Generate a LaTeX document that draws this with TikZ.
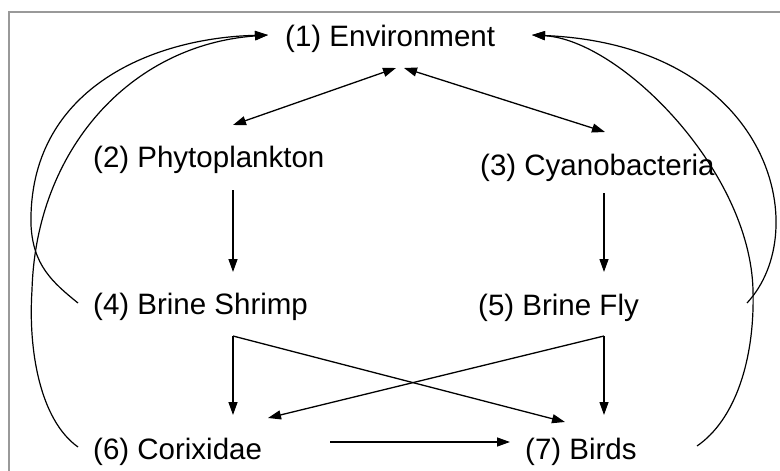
\documentclass[tikz,border=0pt]{standalone}
\usepackage{fontspec}
\setmainfont{Liberation Sans}
\usetikzlibrary{arrows.meta}
\begin{document}
\begin{tikzpicture}[x=1pt,y=-1pt,
  lbl/.style={anchor=base west,inner sep=0pt,font=\fontsize{29.5}{34}\selectfont},
  tip/.style={Triangle[length=13pt,width=9pt]},
  conn/.style={line width=1.3pt,-{Triangle[length=13pt,width=9pt]}},
  dconn/.style={line width=1.3pt,{Triangle[length=13pt,width=9pt]}-{Triangle[length=13pt,width=9pt]}},
  curv/.style={line width=1.2pt,-{Triangle[length=13pt,width=9pt]}},
  frame/.style={draw=gray!80,line width=2.5pt}]
\useasboundingbox (0,0) rectangle (780,471);
\fill[white] (0,0) rectangle (780,471);
\draw[frame] (9,471) -- (9,12) -- (780,12);
% nodes
\node[lbl] (env) at (285,46) {(1) Environment};
\node[lbl] (phy) at (93,167) {(2) Phytoplankton};
\node[lbl] (cya) at (480,175) {(3) Cyanobacteria};
\node[lbl] (shr) at (93,314) {(4) Brine Shrimp};
\node[lbl] (fly) at (478,315) {(5) Brine Fly};
\node[lbl] (cor) at (93,459) {(6) Corixidae};
\node[lbl] (bir) at (525,459) {(7) Birds};
% connector end points
\coordinate (envA) at (396,68);
\coordinate (envB) at (404,68);
\coordinate (phyT) at (233,125);
\coordinate (cyaT) at (605,132);
\coordinate (phyB) at (233,190);
\coordinate (shrT) at (233,272);
\coordinate (cyaB) at (604,193);
\coordinate (flyT) at (604,272);
\coordinate (shrB) at (233,336);
\coordinate (flyB) at (604,336);
\coordinate (corT) at (233,415);
\coordinate (corR) at (268,418);
\coordinate (birL) at (565,422);
\coordinate (birT) at (604,415);
\coordinate (corE) at (330,442);
\coordinate (birW) at (510,442);
\coordinate (envW) at (268,35);
\coordinate (envE) at (532,35);
\coordinate (shrW) at (78,303);
\coordinate (corW) at (78,447);
\coordinate (flyE) at (747,303);
\coordinate (birE) at (697,446);
% straight connectors
\draw[dconn] (envA) -- (phyT);
\draw[dconn] (envB) -- (cyaT);
\draw[conn] (phyB) -- (shrT);
\draw[conn] (cyaB) -- (flyT);
\draw[conn] (shrB) -- (corT);
\draw[conn] (shrB) -- (birL);
\draw[conn] (flyB) -- (birT);
\draw[conn] (flyB) -- (corR);
\draw[conn] (corE) -- (birW);
% curved connectors
\draw[curv] (shrW) .. controls (52,282) and (33,265) .. (31,225)
  .. controls (28,90) and (150,38) .. (envW);
\draw[curv] (corW) .. controls (40,420) and (28,350) .. (32,290)
  .. controls (36,150) and (130,45) .. (envW);
\draw[curv] (birE) .. controls (735,420) and (755,360) .. (753,290)
  .. controls (750,170) and (620,40) .. (envE);
\draw[curv] (flyE) .. controls (815,230) and (770,45) .. (envE);
\end{tikzpicture}
\end{document}
